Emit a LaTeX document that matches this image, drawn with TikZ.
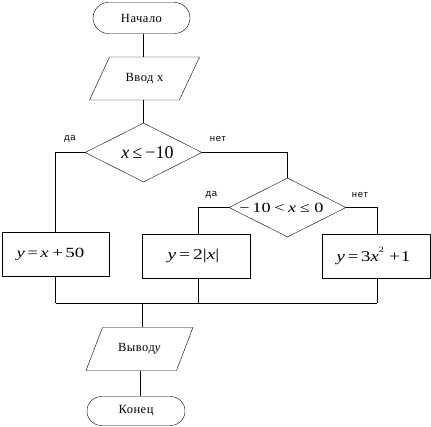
\documentclass[tikz,border=0pt]{standalone}
\usepackage{fontspec}
\usepackage{graphicx}
\setmainfont{Liberation Serif}
\newfontfamily\lblfont[LetterSpace=8]{Liberation Sans}
\newfontfamily\txtfont[LetterSpace=4]{Liberation Serif}
\usetikzlibrary{shapes.geometric}
\newcommand{\vv}[1]{\textit{#1}}
% centred zero-width text, shifted right by half of #1 and stretched by #2
\newcommand{\mtext}[3]{\makebox[0pt]{\hspace*{#1}\scalebox{#2}[1]{#3}}}
\tikzset{
  every node/.style={font=\txtfont\fontsize{12.5}{13}\selectfont},
  term/.style={draw, rectangle, rounded corners=15.5pt, minimum width=97pt, minimum height=31pt, inner sep=0pt},
  iobox/.style 2 args={draw, trapezium, trapezium left angle=#2, trapezium right angle=180-#2, trapezium stretches body, minimum width=#1, text height=8pt, text depth=2pt, inner ysep=16.5pt, inner xsep=0pt},
  cond/.style={draw, diamond, minimum width=117pt, minimum height=59pt, inner sep=0pt},
  proc/.style={draw, rectangle, minimum width=107pt, minimum height=44pt, inner sep=0pt},
  lbl/.style={font=\lblfont\fontsize{9.5}{10}\selectfont, inner sep=0pt},
  line width=1pt
}
\begin{document}
\begin{tikzpicture}[x=1pt,y=-1pt]
\useasboundingbox (0,0) rectangle (431,427);
\node[term] (t1) at (141.5,18) {Начало};
\node[iobox={110pt}{65}] (p1) at (144.5,78.5) {Ввод x};
\node[cond, font=\fontsize{18}{20}\selectfont] (d1) at (143.5,152.5) {\mtext{8pt}{1}{\vv{x}\,≤\,−10}};
\node[cond, font=\fontsize{14}{16}\selectfont] (d2) at (287.5,207.5) {\mtext{-12pt}{1.3}{−\hspace{0.15em}10\hspace{0.2em}<\hspace{0.2em}\vv{x}\hspace{0.2em}≤\hspace{0.25em}0}};
\node[proc, font=\fontsize{14}{16}\selectfont] (b1) at (55.5,254) {\mtext{-10pt}{1.35}{\vv{y}\hspace{0.12em}=\hspace{0.12em}\vv{x}\hspace{0.2em}+\hspace{0.12em}50}};
\node[proc, minimum width=108pt, font=\fontsize{15}{17}\selectfont] (b2) at (196,256) {\mtext{-5pt}{1.3}{\vv{y}\hspace{0.15em}=\hspace{0.15em}2|\vv{x}|}};
\node[proc, minimum width=108pt, font=\fontsize{15}{17}\selectfont] (b3) at (376,256) {\mtext{-5pt}{1.25}{\vv{y}\hspace{0.15em}=\hspace{0.15em}3\vv{x}\raisebox{0.55em}{\fontsize{8}{9}\selectfont 2}\hspace{0.3em}+\hspace{0.05em}1}};
\node[iobox={107pt}{69}] (p2) at (139.5,349) {Вывод\vv{y}};
\node[term, minimum height=29pt, rounded corners=14.5pt, minimum width=98pt] (t2) at (136,411) {Конец};
\node[lbl] (l1) at (70,139) {да};
\node[lbl] (l2) at (218,139) {нет};
\node[lbl] (l3) at (211.5,195) {да};
\node[lbl] (l4) at (360,195) {нет};
\coordinate (m1) at (55.5,303);
\coordinate (m2) at (198,303);
\coordinate (m3) at (377,303);
\coordinate (m0) at (142,303);
\draw (143,0 |- t1.south) -- (143,0 |- p1.north);
\draw (143,0 |- p1.south) -- (143,0 |- d1.north);
\draw (d1.west) -| (b1.north);
\draw (d1.east) -| (d2.north);
\draw (d2.west) -| (198,0 |- b2.north);
\draw (d2.east) -| (377,0 |- b3.north);
\draw (b1.south) -- (m1);
\draw (198,0 |- b2.south) -- (m2);
\draw (377,0 |- b3.south) -- (m3);
\draw (m1) -- (m3);
\draw (m0) -- (142,0 |- p2.north);
\draw (140,0 |- p2.south) -- (140,0 |- t2.north);
\end{tikzpicture}
\end{document}
